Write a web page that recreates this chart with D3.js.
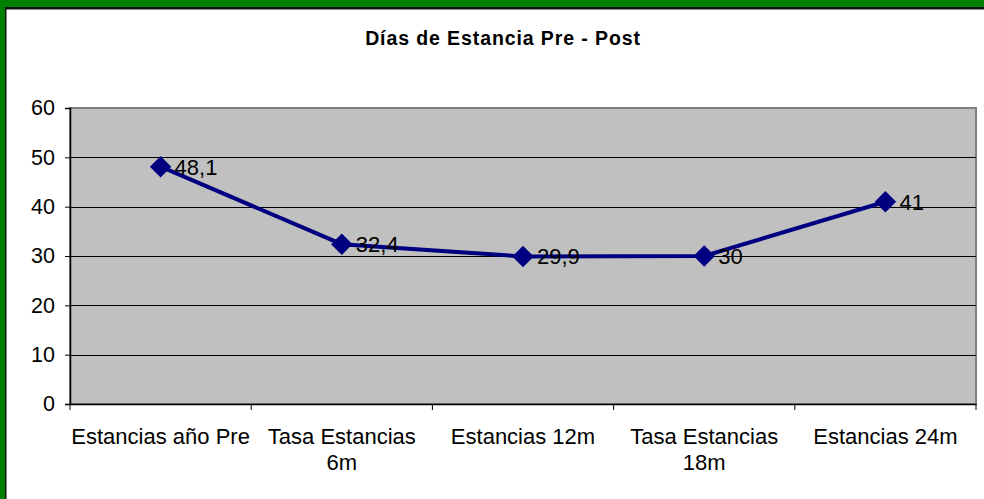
<!DOCTYPE html>
<html>
<head>
<meta charset="utf-8">
<script src="https://cdn.jsdelivr.net/npm/d3@7"></script>
<style>
  body { margin: 0; background: #fff; }
  text { font-family: "Liberation Sans", Arial, sans-serif; fill: #000; }
</style>
</head>
<body>
<div id="chart"></div>
<script>
var categories = ["Estancias año Pre", "Tasa Estancias|6m", "Estancias 12m", "Tasa Estancias|18m", "Estancias 24m"];
var values = [48.1, 32.4, 29.9, 30, 41];
var valueLabels = ["48,1", "32,4", "29,9", "30", "41"];
var yTicks = [0, 10, 20, 30, 40, 50, 60];

var svgWidth = 984;
var svgHeight = 499;

var margin = { top: 108, right: 8, bottom: 95, left: 70 };
var width = 976 - margin.left;
var height = 404 - margin.top;

var svg = d3.select("#chart")
    .append("svg")
    .attr("width", svgWidth)
    .attr("height", svgHeight);

// green frame with dark inner line
svg.append("rect")
    .attr("x", 0).attr("y", 0)
    .attr("width", svgWidth).attr("height", svgHeight)
    .attr("fill", "#008000");
svg.append("rect")
    .attr("x", 5).attr("y", 7)
    .attr("width", svgWidth - 5).attr("height", svgHeight - 7)
    .attr("fill", "#111");
svg.append("rect")
    .attr("x", 6.5).attr("y", 9.5)
    .attr("width", svgWidth - 6.5).attr("height", svgHeight - 9.5)
    .attr("fill", "#fff");

svg.append("text")
    .attr("x", 503)
    .attr("y", 45)
    .attr("text-anchor", "middle")
    .style("font-weight", "bold")
    .style("font-size", "19.5px")
    .style("letter-spacing", "0.9px")
    .text("Días de Estancia Pre - Post");

var chartGroup = svg.append("g")
    .attr("transform", `translate(${margin.left}, ${margin.top})`);

var xScale = d3.scaleBand()
    .domain(categories)
    .range([0, width]);

var yScale = d3.scaleLinear()
    .domain([0, 60])
    .range([height, 0]);

// plot background
chartGroup.append("rect")
    .attr("width", width)
    .attr("height", height)
    .attr("fill", "#c0c0c0")
    .attr("stroke", "#808080")
    .attr("stroke-width", 2);

// gridlines
chartGroup.selectAll(".grid")
    .data(yTicks.filter(d => d > 0 && d < 60))
    .enter()
    .append("line")
    .attr("x1", 0).attr("x2", width)
    .attr("y1", d => Math.round(yScale(d)) + 0.5)
    .attr("y2", d => Math.round(yScale(d)) + 0.5)
    .attr("stroke", "#000")
    .attr("stroke-width", 1);

// axes
var leftAxis = d3.axisLeft(yScale).tickValues(yTicks).tickSize(5).tickPadding(10);
var bottomAxis = d3.axisBottom(xScale).tickSize(0).tickPadding(0).tickFormat("");

var yAxisG = chartGroup.append("g").call(leftAxis);
yAxisG.select(".domain").attr("stroke", "#000").attr("stroke-width", 1.5);
yAxisG.selectAll("text").style("font-size", "21.5px").attr("fill", "#000");

var xAxisG = chartGroup.append("g")
    .attr("transform", `translate(0, ${height})`)
    .call(bottomAxis);
xAxisG.select(".domain").attr("stroke", "#000").attr("stroke-width", 1.5);

// category boundary ticks
var boundaries = d3.range(categories.length + 1).map(i => i * xScale.step());
xAxisG.selectAll(".bt")
    .data(boundaries)
    .enter()
    .append("line")
    .attr("x1", d => d).attr("x2", d => d)
    .attr("y1", 0).attr("y2", 6)
    .attr("stroke", "#000");

// category labels (two-line where needed)
var xLabels = xAxisG.selectAll(".xl")
    .data(categories)
    .enter()
    .append("text")
    .attr("text-anchor", "middle")
    .style("font-size", "22px")
    .attr("transform", d => `translate(${xScale(d) + xScale.bandwidth() / 2}, 39.5)`);
xLabels.selectAll("tspan")
    .data(d => d.split("|"))
    .enter()
    .append("tspan")
    .attr("x", 0)
    .attr("dy", (d, i) => i === 0 ? 0 : "1.2em")
    .text(d => d);

// line
var cx = (d, i) => xScale(categories[i]) + xScale.bandwidth() / 2;
var line = d3.line()
    .x(cx)
    .y(d => yScale(d));

chartGroup.append("path")
    .datum(values)
    .attr("d", line)
    .attr("fill", "none")
    .attr("stroke", "#000080")
    .attr("stroke-width", 4);

chartGroup.selectAll(".pt")
    .data(values)
    .enter()
    .append("path")
    .attr("d", d3.symbol(d3.symbolSquare, 230)())
    .attr("transform", (d, i) => `translate(${cx(d, i)}, ${yScale(d)}) rotate(45)`)
    .attr("fill", "#000080");

chartGroup.selectAll(".vl")
    .data(values)
    .enter()
    .append("text")
    .attr("x", (d, i) => cx(d, i) + 14)
    .attr("y", d => yScale(d))
    .attr("dy", "0.36em")
    .style("font-size", "22px")
    .text((d, i) => valueLabels[i]);
</script>
</body>
</html>
